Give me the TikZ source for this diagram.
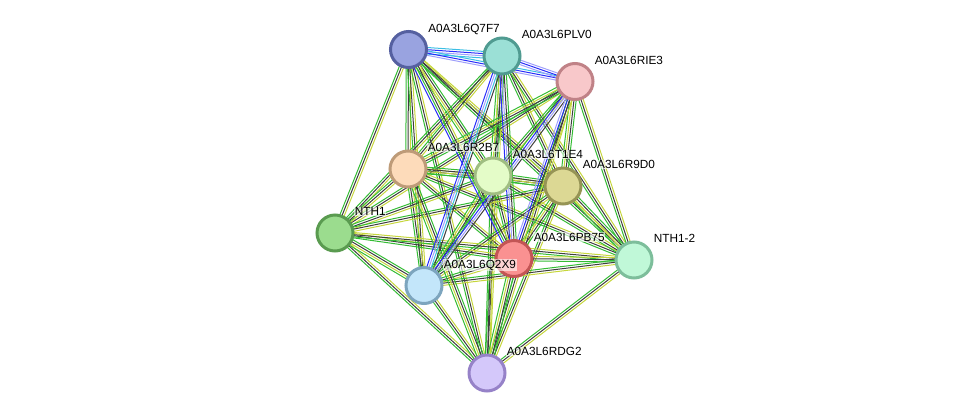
\documentclass[tikz,border=0pt]{standalone}
\usepackage{fontspec}
\setmainfont{Liberation Sans}
\usetikzlibrary{calc,backgrounds}

% evidence channel colours
\definecolor{sgreen}{RGB}{52,188,52}
\definecolor{syellow}{RGB}{198,214,60}
\definecolor{sblack}{RGB}{62,62,62}
\definecolor{sblue}{RGB}{40,44,250}
\definecolor{scyan}{RGB}{60,190,228}
\definecolor{slav}{RGB}{160,160,250}

% one bundle of parallel lines between two proteins
\newcommand{\bundle}[3]{%
  \foreach \off/\clr in #3 {\draw[wire, \clr] ($(#1)!\off pt!90:(#2)$) -- ($(#2)!\off pt!-90:(#1)$);}}
\newcommand{\std}{-2.2/sgreen,0/sblack,2.2/syellow}
\newcommand{\stdb}{-3.3/sgreen,-1.1/syellow,1.1/sblack,3.3/sgreen}

% name/x/y/fill/border/label
\newcommand{\prots}{q7f7/408.5/49.5/99A3E0/5560A0/A0A3L6Q7F7,
  plv0/502/56/9BE0D6/509B91/A0A3L6PLV0,
  rie3/575/81.5/F8C8CA/C08287/A0A3L6RIE3,
  r2b7/408/169/FDDBBA/BE9B78/A0A3L6R2B7,
  t1e4/493/176/E4FCC8/A0BE82/A0A3L6T1E4,
  r9d0/563/186/DCD894/969455/A0A3L6R9D0,
  nth1/335/233/9BDC8E/5A9B50/NTH1,
  pb75/514/258.5/FA9191/C35555/A0A3L6PB75,
  nth2/634/260/C0F8D8/7DBE9B/NTH1-2,
  q2x9/424/285.5/C3E6FA/7DA5BE/A0A3L6Q2X9,
  rdg2/487/373/D4C8FA/9682C8/A0A3L6RDG2}

\begin{document}
\begin{tikzpicture}[
    x=1pt, y=-1pt,
    wire/.style = { line width = 1pt },
    prot/.style = { circle, inner sep = 0, minimum size = 36pt, line width = 3pt },
    lbl/.style = { anchor = base west, inner sep = 0.6pt, fill = white, fill opacity = 0.6,
                   text opacity = 1, font = \fontsize{11.8}{13}\selectfont }
    ]
    \useasboundingbox (0,0) rectangle (976,418);

    \foreach \n/\x/\y/\f/\d/\t in \prots {
        \definecolor{pf}{HTML}{\f}\definecolor{pd}{HTML}{\d}
        \node[prot, fill=pf, draw=pd] (\n) at (\x,\y) {};
    }

    \begin{scope}[on background layer]
    % plain bundles
    \foreach \a/\b in {q7f7/r2b7, q7f7/r9d0, q7f7/nth1, q7f7/nth2, q7f7/q2x9, q7f7/rdg2,
        plv0/r2b7, plv0/r9d0, plv0/nth1, plv0/nth2, plv0/rdg2,
        rie3/t1e4, rie3/nth1, rie3/nth2, rie3/rdg2,
        r2b7/r9d0, r2b7/nth1, r2b7/pb75, r2b7/nth2, r2b7/q2x9,
        t1e4/nth1, t1e4/pb75, t1e4/nth2, t1e4/rdg2,
        r9d0/nth1, r9d0/q2x9, r9d0/rdg2,
        nth1/pb75, nth1/nth2, nth1/rdg2,
        pb75/nth2, pb75/q2x9, nth2/q2x9, nth2/rdg2, q2x9/rdg2}
        {\bundle{\a}{\b}{\std}}
    \foreach \a/\b in {q7f7/t1e4, plv0/t1e4, rie3/r2b7, rie3/r9d0, r2b7/t1e4, r2b7/rdg2,
        t1e4/r9d0, t1e4/q2x9, r9d0/pb75, r9d0/nth2, nth1/q2x9, pb75/rdg2}
        {\bundle{\a}{\b}{\stdb}}
    % bundles with database, co-occurrence and homology lines
    \bundle{q7f7}{plv0}{{-3.3/scyan,-1.1/slav,1.1/sblue,3.3/scyan}}
    \bundle{q7f7}{rie3}{{-2.2/slav,0/sblue,2.2/scyan}}
    \bundle{plv0}{rie3}{{-2.2/slav,0/sblue,2.2/slav}}
    \bundle{q7f7}{pb75}{{-3.3/sblue,-1.1/sgreen,1.1/sblack,3.3/syellow}}
    \bundle{plv0}{q2x9}{{-3.3/sblue,-1.1/slav,1.1/scyan,3.3/sblack}}
    \bundle{rie3}{q2x9}{{-3.3/sgreen,-1.1/sblue,1.1/slav,3.3/sblack}}
    \bundle{plv0}{pb75}{{-3.3/sblue,-1.1/slav,1.1/sblack,3.3/sgreen}}
    \bundle{rie3}{pb75}{{-3.3/slav,-1.1/sblue,1.1/sblack,3.3/syellow}}
    \end{scope}

    \foreach \n/\x/\y/\f/\d/\t in \prots
        {\node[lbl] (\n-l) at ($(\n)+(19,-17.5)$) {\t};}
\end{tikzpicture}
\end{document}
